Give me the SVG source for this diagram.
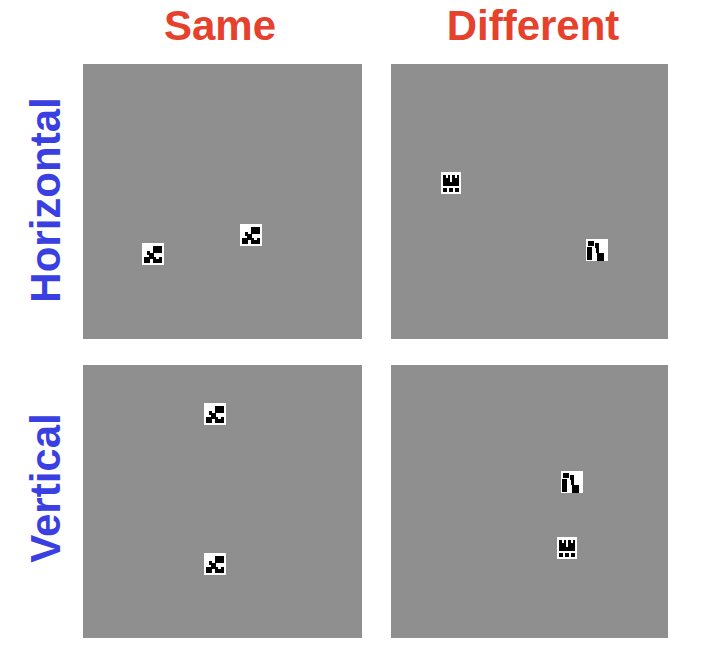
<svg xmlns="http://www.w3.org/2000/svg" xmlns:xlink="http://www.w3.org/1999/xlink" width="720" height="664" viewBox="0 0 720 664">
<style>
.panel{fill:#8f8f8f}
.col{font-family:"Liberation Sans",Arial,sans-serif;font-weight:bold;font-size:42px;fill:#e5412c;text-anchor:middle}
.row{font-family:"Liberation Sans",Arial,sans-serif;font-weight:bold;font-size:42px;fill:#3a3fe2;text-anchor:middle}
.w{fill:#ffffff}
.k{fill:#000000}
</style>
<defs>
<g id="pA">
<rect class="w" x="-11" y="-11" width="22" height="22"/>
<rect class="k" x="0" y="-8" width="9" height="7"/>
<rect class="k" x="-6" y="-3" width="3" height="4"/>
<rect class="k" x="-4" y="-1" width="5" height="6"/>
<rect class="k" x="-9" y="3" width="6" height="6"/>
<rect class="k" x="0" y="3" width="9" height="6"/>
<rect class="w" x="3" y="2" width="3" height="3"/>
</g>
<g id="pB">
<rect class="w" x="-10" y="-11" width="20" height="22"/>
<rect class="k" x="-8" y="-8" width="7" height="11"/>
<rect class="k" x="1" y="-8" width="7" height="11"/>
<rect class="w" x="-5" y="-8" width="2" height="3"/>
<rect class="w" x="4" y="-8" width="2" height="3"/>
<rect class="k" x="-8" y="-1" width="16" height="4"/>
<rect class="k" x="-8" y="5" width="4" height="4"/>
<rect class="k" x="-2" y="5" width="4" height="4"/>
<rect class="k" x="4" y="5" width="4" height="4"/>
</g>
<g id="pC">
<rect class="w" x="-11" y="-11" width="22" height="22"/>
<rect class="k" x="-9" y="-9" width="6" height="5"/>
<rect class="k" x="-2" y="-7" width="4" height="5"/>
<rect class="k" x="-10" y="-3" width="5" height="13"/>
<rect class="k" x="0" y="3" width="7" height="8"/>
<rect class="k" x="-1" y="-2" width="3" height="5"/>
</g>
</defs>
<text class="col" x="220" y="40">Same</text>
<text class="col" x="533" y="40">Different</text>
<text class="row" transform="translate(60,200) rotate(-90)">Horizontal</text>
<text class="row" transform="translate(60,488) rotate(-90)">Vertical</text>
<g id="panel-hs">
<rect class="panel" x="83" y="64" width="279" height="275"/>
<use xlink:href="#pA" x="153" y="254"/>
<use xlink:href="#pA" x="251" y="235"/>
</g>
<g id="panel-hd">
<rect class="panel" x="391" y="64" width="277" height="275"/>
<use xlink:href="#pB" x="451" y="183"/>
<use xlink:href="#pC" x="597" y="250"/>
</g>
<g id="panel-vs">
<rect class="panel" x="83" y="365" width="279" height="273"/>
<use xlink:href="#pA" x="215" y="414"/>
<use xlink:href="#pA" x="215" y="564"/>
</g>
<g id="panel-vd">
<rect class="panel" x="391" y="365" width="277" height="273"/>
<use xlink:href="#pC" x="572" y="482"/>
<use xlink:href="#pB" x="567" y="548"/>
</g>
<g id="connectors"/>
</svg>
